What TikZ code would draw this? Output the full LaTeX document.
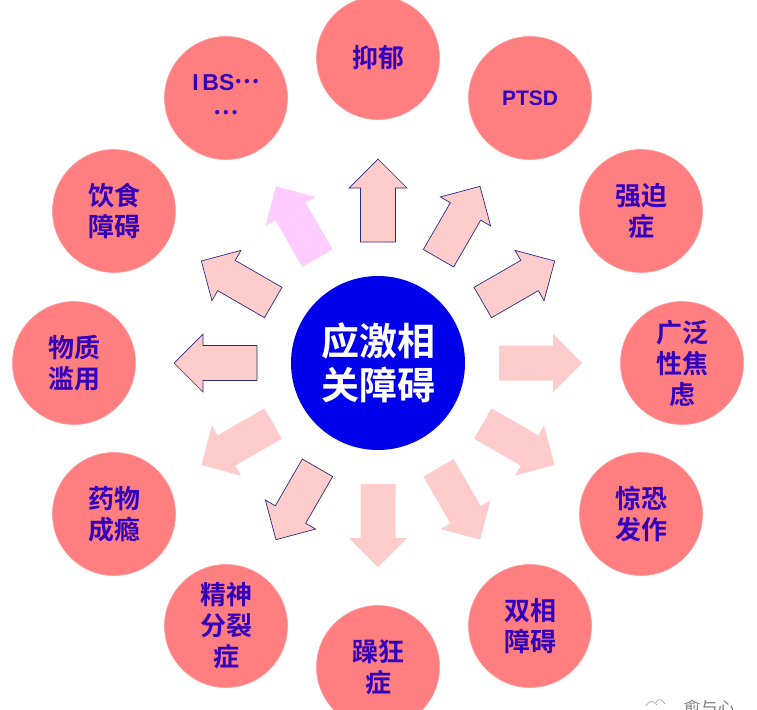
\documentclass[tikz,border=0pt]{standalone}
\usepackage{fontspec}
\setmainfont{Noto Sans CJK SC}[BoldFont={Noto Sans CJK SC Bold}]
\setsansfont{Liberation Sans}[BoldFont={Liberation Sans Bold}]
\definecolor{discfill}{HTML}{FF7F81}
\definecolor{disctext}{HTML}{3300BB}
\definecolor{hubfill}{HTML}{0000EA}
\definecolor{arrowfill}{HTML}{FFCCCC}
\definecolor{arrowlilac}{HTML}{FFCCFF}
\definecolor{arrowline}{HTML}{2A2A80}
\tikzset{
  disc/.style={circle,fill=discfill,draw=discfill!80!white,line width=.6pt,minimum size=123pt,inner sep=0pt,
    text=disctext,font=\fontsize{26}{31}\selectfont\bfseries,align=center},
  hub/.style={circle,fill=hubfill,minimum size=174pt,inner sep=0pt,text=white,
    font=\fontsize{38}{44}\selectfont\bfseries,align=center},
  ray/.style={fill=arrowfill,draw=none},
  rayline/.style={fill=arrowfill,draw=arrowline,line width=.7pt,line join=miter},
  raylilac/.style={fill=arrowlilac,draw=none},
}
\newcommand{\rayarrow}[2]{%
  \path[#2,shift={(378,363)},rotate=#1]
    (121,-17.5) -- (175,-17.5) -- (175,-29) -- (204,0) -- (175,29) -- (175,17.5) -- (121,17.5) -- cycle;}
\newcommand{\latin}[2][23]{{\sffamily\fontsize{#1}{31}\selectfont #2}}
\newcommand{\midots}{\raisebox{.26em}{\fontsize{23}{31}\selectfont …}}
\begin{document}
\begin{tikzpicture}[x=1pt,y=-1pt]
\useasboundingbox (0,0) rectangle (757,709);
\fill[white] (0,0) rectangle (757,709);
\clip (0,0) rectangle (757,709);
% arrows: angle counted counter-clockwise from east
\rayarrow{0}{ray}
\rayarrow{30}{rayline}
\rayarrow{60}{rayline}
\rayarrow{90}{rayline}
\rayarrow{120}{raylilac}
\rayarrow{150}{rayline}
\rayarrow{180}{rayline}
\rayarrow{210}{ray}
\rayarrow{240}{rayline}
\rayarrow{270}{ray}
\rayarrow{300}{ray}
\rayarrow{330}{ray}
\node[hub] (hubnode) at (378,363) {应激相\\关障碍};
\node[disc] (d1) at (378,58) {抑郁};
\node[disc] (d2) at (530,98) {\latin[21]{PTSD}};
\node[disc] (d3) at (641,211) {强迫\\症};
\node[disc] (d4) at (682,363) {广泛\\性焦\\虑};
\node[disc] (d5) at (641,514) {惊恐\\发作};
\node[disc] (d6) at (530,626) {双相\\障碍};
\node[disc] (d7) at (378,667) {躁狂\\症};
\node[disc] (d8) at (226,626) {精神\\分裂\\症};
\node[disc] (d9) at (114,514) {药物\\成瘾};
\node[disc] (d10) at (74,363) {物质\\滥用};
\node[disc] (d11) at (114,211) {饮食\\障碍};
\node[disc] (d12) at (226,98) {\latin{I\,BS}\midots\\\midots};
\node[text=black!50,font=\fontsize{17}{17}\selectfont,anchor=west] (mark) at (680,708) {愈与心};
\draw[black!35,line width=.7pt] (646,706) .. controls (650,700) and (653,700) .. (657,705);
\draw[black!35,line width=.7pt] (656,702) .. controls (659,698) and (662,699) .. (665,704);
\end{tikzpicture}
\end{document}
